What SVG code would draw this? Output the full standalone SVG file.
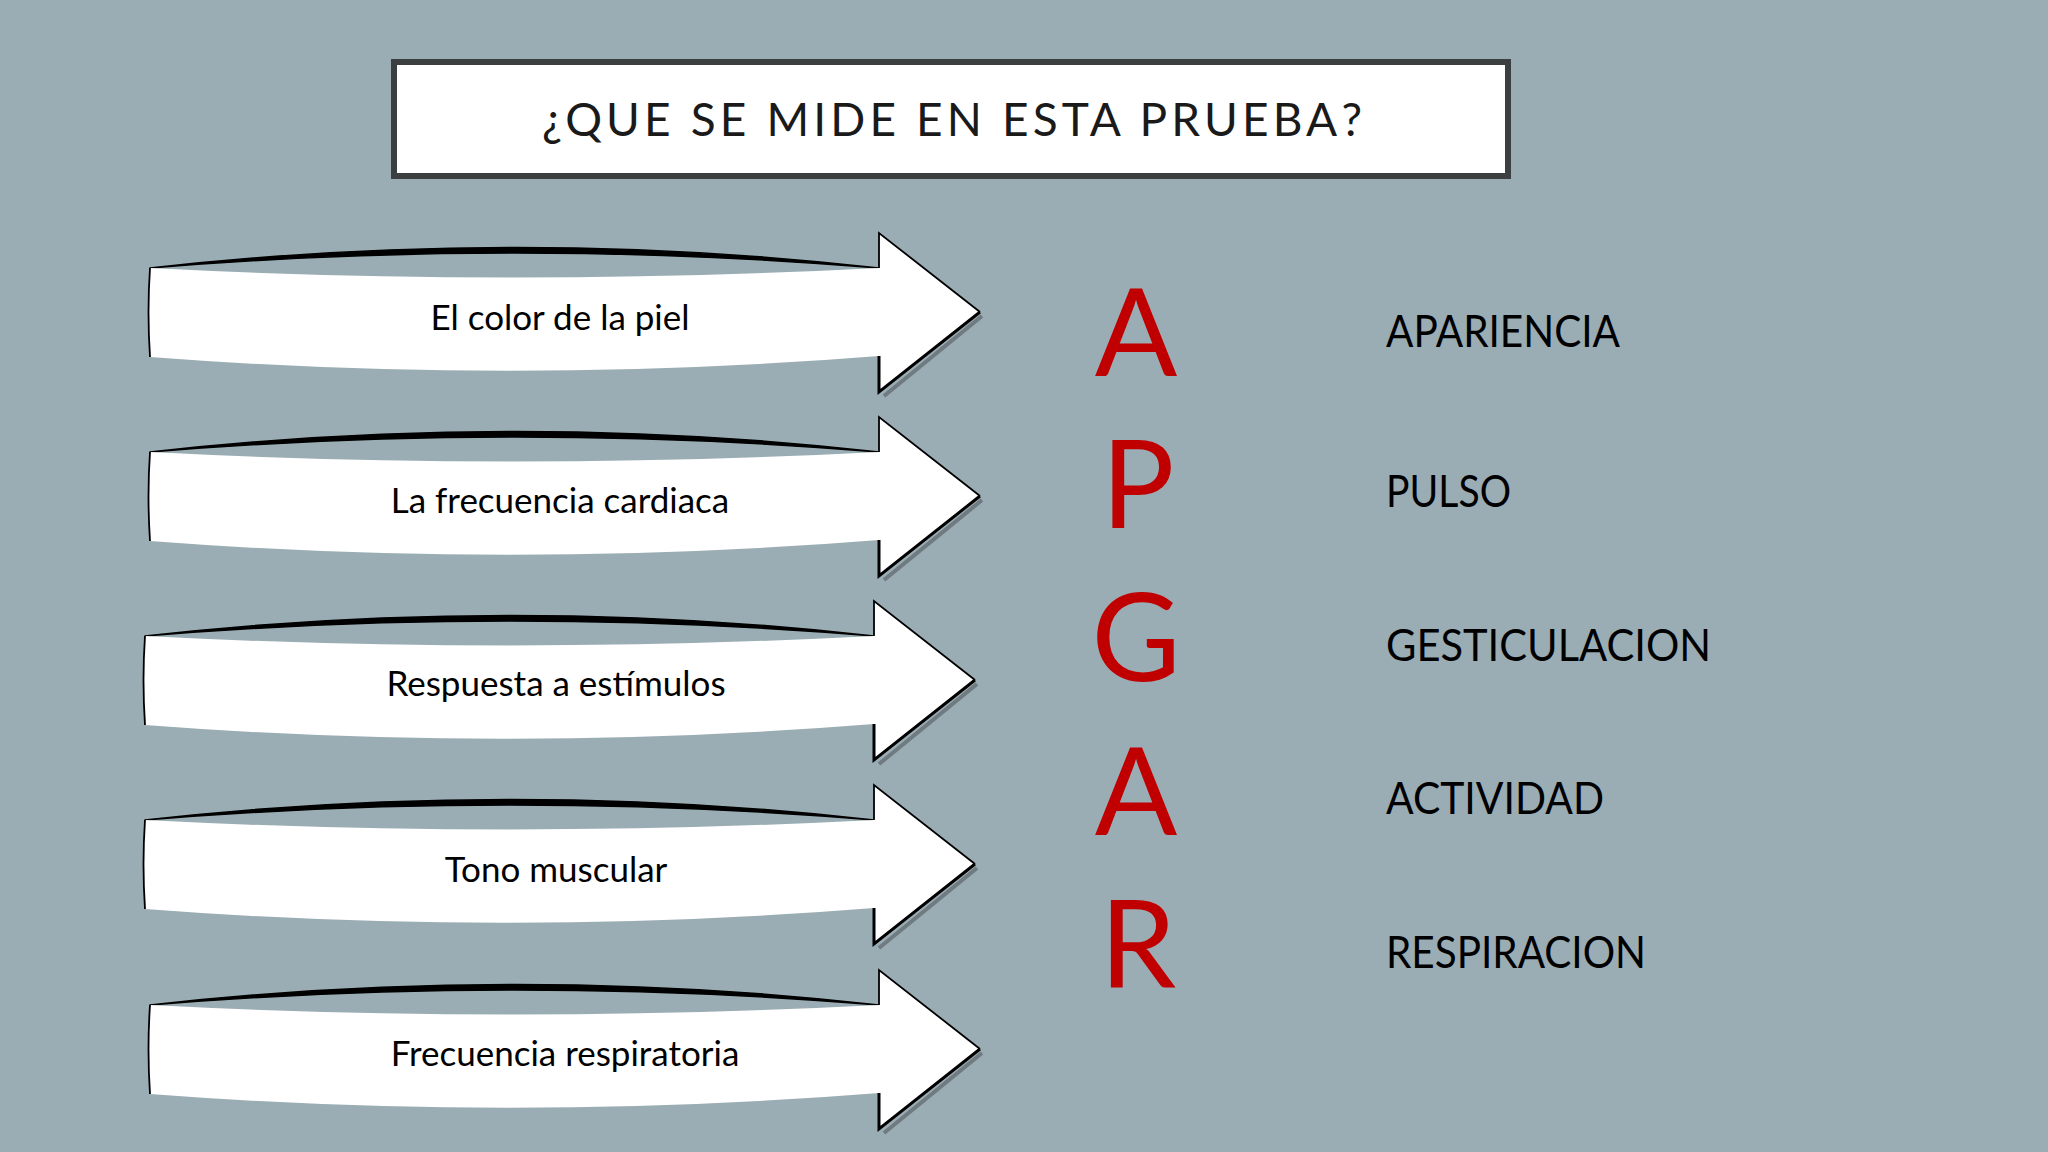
<svg xmlns="http://www.w3.org/2000/svg" width="2048" height="1152" viewBox="0 0 2048 1152">
<style>
.bg{fill:#9badb4}
.titlebox{fill:#ffffff;stroke:#3b3f40;stroke-width:6}
.title{font-family:Lato,"Liberation Sans",sans-serif;font-size:46px;fill:#1a1a1a}
.body{fill:#ffffff}
.arc{fill:#000;stroke:#000;stroke-width:1.5;stroke-linejoin:round}
.edge{fill:none;stroke:#000;stroke-width:1.8;stroke-linejoin:miter}
.edgeb{fill:none;stroke:#000;stroke-width:3}
.shadow{fill:none;stroke:#6f7b80;stroke-width:4}
.lbl{font-family:Lato,"Liberation Sans",sans-serif;font-size:35px;fill:#000;text-anchor:middle}
.big{font-family:Lato,"Liberation Sans",sans-serif;font-size:122px;fill:#c00000;text-anchor:middle}
.word{font-family:Lato,"Liberation Sans",sans-serif;font-size:44px;fill:#000}
</style>
<defs>
<g id="arrow">
<path class="arc" d="M150,268 Q515,227 879,268 Q515,238 150,268 Z"/>
<path class="shadow" d="M982,316 L884,396"/>
<path class="body" d="M150,268 Q515,287 879,268 L879,233 L980,312 L879,392 L879,356 Q515,385 150,357 Q147,312 150,268 Z"/>
<path class="edge" d="M879,268 L879,233 L980,312"/>
<path class="edgeb" d="M980,312 L879,392 L879,356"/>
<path class="edge" d="M150,268 Q147,312 150,357"/>
</g>
</defs>
<rect class="bg" x="0" y="0" width="2048" height="1152"/>
<g id="title">
<rect class="titlebox" x="394" y="62" width="1114" height="114"/>
<text class="title" x="542" y="136" textLength="820" lengthAdjust="spacing">¿QUE SE MIDE EN ESTA PRUEBA?</text>
</g>
<g id="connectors"></g>
<g id="arrow1">
<use href="#arrow"/>
<text class="lbl" x="560" y="330">El color de la piel</text>
</g>
<g id="arrow2">
<use href="#arrow" transform="translate(0,184)"/>
<text class="lbl" x="560" y="513">La frecuencia cardiaca</text>
</g>
<g id="arrow3">
<use href="#arrow" transform="translate(-5,368)"/>
<text class="lbl" x="556" y="696">Respuesta a estímulos</text>
</g>
<g id="arrow4">
<use href="#arrow" transform="translate(-5,552)"/>
<text class="lbl" x="556" y="882">Tono muscular</text>
</g>
<g id="arrow5">
<use href="#arrow" transform="translate(0,737)"/>
<text class="lbl" x="565" y="1066">Frecuencia respiratoria</text>
</g>
<g id="apgar">
<text class="big" x="1136" y="376">A</text>
<text class="big" x="1138" y="528">P</text>
<text class="big" x="1136" y="681">G</text>
<text class="big" x="1136" y="835">A</text>
<text class="big" x="1138" y="988">R</text>
</g>
<g id="words">
<text class="word" x="1386" y="347" textLength="234" lengthAdjust="spacingAndGlyphs">APARIENCIA</text>
<text class="word" x="1386" y="507" textLength="125" lengthAdjust="spacingAndGlyphs">PULSO</text>
<text class="word" x="1386" y="661" textLength="325" lengthAdjust="spacingAndGlyphs">GESTICULACION</text>
<text class="word" x="1386" y="814" textLength="218" lengthAdjust="spacingAndGlyphs">ACTIVIDAD</text>
<text class="word" x="1386" y="968" textLength="260" lengthAdjust="spacingAndGlyphs">RESPIRACION</text>
</g>
</svg>
